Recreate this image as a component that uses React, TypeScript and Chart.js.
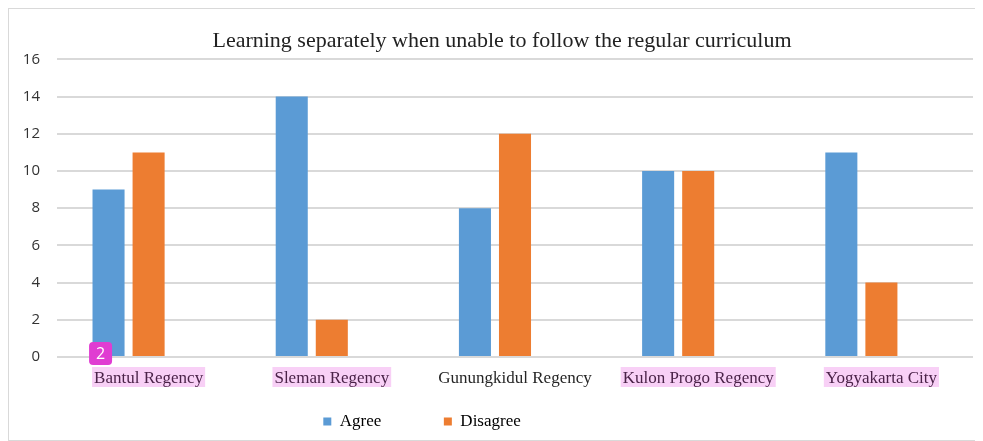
import React, { useEffect, useRef } from "react";
import { Chart, registerables } from "chart.js";

Chart.register(...registerables);

if (typeof document !== "undefined") {
  document.documentElement.style.overflow = "hidden";
}

const TITLE = "Learning separately when unable to follow the regular curriculum";
const categories = ["Bantul Regency", "Sleman Regency", "Gunungkidul Regency", "Kulon Progo Regency", "Yogyakarta City"];
const agreeValues = [9, 14, 8, 10, 11];
const disagreeValues = [11, 2, 12, 10, 4];
const emptySeries = [null, null, null, null, null];
const yTicks = [0, 2, 4, 6, 8, 10, 12, 14, 16];
const highlightedLabels = [0, 1, 3, 4];
const badgeText = "2";

const SERIF = '"Liberation Serif", "Times New Roman", serif';
const SANS = '"Open Sans", "Noto Sans", sans-serif';
const LEGEND_FONT_SIZE = 17;
const LABEL_FONT_SIZE = 17;

function padTo(text: string, px: number): string {
  const c = document.createElement("canvas").getContext("2d")!;
  c.font = `${LEGEND_FONT_SIZE}px ${SERIF}`;
  let t = text;
  let guard = 0;
  while (c.measureText(t).width < px && guard < 200) {
    t += "\u200A";
    guard++;
  }
  return t;
}

const highlightPlugin = {
  id: "labelHighlight",
  afterDraw(chart: any) {
    const ctx = chart.ctx;
    const xs = chart.scales.x;
    ctx.save();
    ctx.font = `${LABEL_FONT_SIZE}px ${SERIF}`;
    const yc = xs.top + 11 + 10;
    highlightedLabels.forEach((i, k) => {
      const cx = xs.getPixelForTick(i);
      const w = ctx.measureText(categories[i]).width;
      const left = cx - w / 2 - 2;
      const top = yc - 11;
      ctx.fillStyle = "rgba(220, 20, 210, 0.2)";
      ctx.fillRect(left, top, w + 4, 20);
      if (k === 0) {
        const bx = left - 3;
        const by = top - 25;
        const s = 23;
        ctx.fillStyle = "#e03cd2";
        ctx.beginPath();
        (ctx as any).roundRect(bx, by, s, s, 4);
        ctx.fill();
        ctx.fillStyle = "#ffffff";
        ctx.font = `16px ${SANS}`;
        ctx.textAlign = "center";
        ctx.textBaseline = "middle";
        ctx.fillText(badgeText, bx + s / 2, by + s / 2 + 1);
        ctx.font = `${LABEL_FONT_SIZE}px ${SERIF}`;
      }
    });
    ctx.restore();
  },
};

export default function App() {
  const ref = useRef<HTMLCanvasElement>(null);
  useEffect(() => {
    document.documentElement.style.overflow = "hidden";
    const padding = 10;
    const boxW = 8;
    const half = LEGEND_FONT_SIZE / 2;
    const slot = 120;
    const lastSlot = 125;
    const chart = new Chart(ref.current!, {
      type: "bar",
      data: {
        labels: categories,
        datasets: [
          { label: "Agree", data: agreeValues, backgroundColor: "#5B9BD5", categoryPercentage: 0.656, barPercentage: 0.8 },
          { label: "Disagree", data: disagreeValues, backgroundColor: "#ED7D31", categoryPercentage: 0.656, barPercentage: 0.8 },
          { label: "", data: emptySeries as any, backgroundColor: "#A5A5A5", categoryPercentage: 0.656, barPercentage: 0.8 },
        ],
      },
      options: {
        animation: false,
        responsive: true,
        maintainAspectRatio: false,
        layout: { padding: { left: 22, right: 36, top: 0, bottom: 0 } },
        plugins: {
          title: {
            display: true,
            text: TITLE,
            color: "#222222",
            font: { family: SERIF, size: 22, weight: "normal" as any },
            padding: { top: 19, bottom: 5 },
          },
          legend: {
            position: "bottom",
            labels: {
              boxWidth: boxW,
              boxHeight: 8,
              padding,
              color: "#262626",
              font: { family: SERIF, size: LEGEND_FONT_SIZE },
              generateLabels: (ch: any) => {
                const ds = ch.data.datasets;
                return ds.map((d: any, i: number) => {
                  const last = i === ds.length - 1;
                  const target = (last ? lastSlot : slot) - padding - boxW - half;
                  return {
                    text: padTo(d.label, target),
                    fillStyle: last ? "rgba(0,0,0,0)" : d.backgroundColor,
                    strokeStyle: "rgba(0,0,0,0)",
                    lineWidth: 0,
                    hidden: false,
                    datasetIndex: i,
                  };
                });
              },
            },
          },
          tooltip: { enabled: false },
        },
        scales: {
          x: {
            grid: { display: false, drawTicks: false },
            border: { display: false },
            ticks: { color: "#262626", font: { family: SERIF, size: LABEL_FONT_SIZE }, padding: 11, maxRotation: 0, autoSkip: false },
            afterFit: (s: any) => {
              s.height = 46;
            },
          },
          y: {
            min: 0,
            max: 16,
            afterBuildTicks: (s: any) => {
              s.ticks = yTicks.map((v) => ({ value: v }));
            },
            afterFit: (s: any) => {
              s.width = 26;
              s._computeLabelArea = () => undefined;
            },
            grid: { color: "#d9d9d9", lineWidth: 2, drawTicks: false },
            border: { display: false },
            ticks: { color: "#333333", font: { family: SANS, size: 15 }, padding: 17 },
          },
        },
      },
      plugins: [highlightPlugin],
    });
    return () => chart.destroy();
  }, []);
  return (
    <div
      style={{
        width: 1000,
        height: 431,
        borderTop: "1px solid #d9d9d9",
        borderBottom: "1px solid #d9d9d9",
        borderLeft: "2px solid #d9d9d9",
        marginLeft: -1,
      }}
    >
      <canvas ref={ref} />
    </div>
  );
}
